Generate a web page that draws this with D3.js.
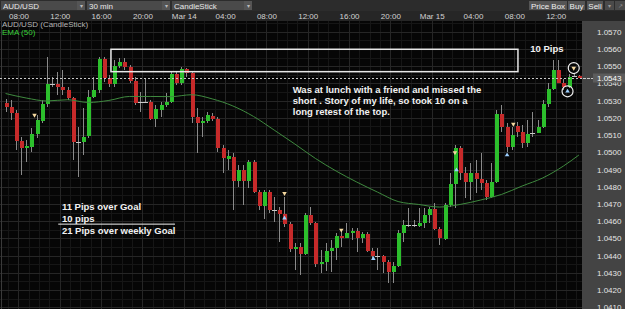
<!DOCTYPE html>
<html>
<head>
<meta charset="utf-8">
<script src="https://cdn.jsdelivr.net/npm/d3@7/dist/d3.min.js"></script>
<style>
  html, body { margin: 0; padding: 0; background: #000; overflow: hidden; }
  #chart { width: 625px; height: 309px; }
  text { font-family: "Liberation Sans", Arial, sans-serif; }
</style>
</head>
<body>
<div id="chart"></div>
<script>
// ---- data ----
const symbolName = 'AUD/USD';
const intervalName = '30 min';
const chartType = 'CandleStick';
const emaLabel = 'EMA (50)';
const toolButtons = ['Price Box', 'Buy', 'Sell'];

const startTime = Date.UTC(2012, 2, 13, 6, 30);   // first candle open
const HALF_HOUR = 30 * 60 * 1000;

const openPrices = [
  1.05284, 1.05265, 1.05226, 1.05065, 1.05023, 1.05032, 1.05104, 1.05183, 1.05279, 1.05395,
  1.05396, 1.05381, 1.05362, 1.05313, 1.05061, 1.05061, 1.05094, 1.05323, 1.05362, 1.05540,
  1.05429, 1.05395, 1.05501, 1.05526, 1.05493, 1.05416, 1.05294, 1.05292, 1.05292, 1.05193,
  1.05245, 1.05274, 1.05294, 1.05453, 1.05400, 1.05482, 1.05459, 1.05207, 1.05168, 1.05183,
  1.05211, 1.05193, 1.05025, 1.04963, 1.04974, 1.04835, 1.04897, 1.04835, 1.04945, 1.04768,
  1.04690, 1.04768, 1.04665, 1.04665, 1.04640, 1.04582, 1.04437, 1.04452, 1.04408, 1.04636,
  1.04588, 1.04350, 1.04363, 1.04427, 1.04443, 1.04514, 1.04504, 1.04533, 1.04545, 1.04501,
  1.04526, 1.04429, 1.04398, 1.04398, 1.04361, 1.04307, 1.04340, 1.04533, 1.04578, 1.04578,
  1.04574, 1.04591, 1.04636, 1.04669, 1.04553, 1.04497, 1.04694, 1.04816, 1.05023, 1.04878,
  1.04829, 1.04878, 1.04843, 1.04820, 1.04742, 1.04826, 1.05222, 1.05145, 1.05029, 1.05153,
  1.05119, 1.05052, 1.05114, 1.05114, 1.05145, 1.05280, 1.05366, 1.05478, 1.05404, 1.05377,
  1.05445, 1.05440
];
const highPrices = [
  1.05308, 1.05303, 1.05245, 1.05090, 1.05071, 1.05139, 1.05216, 1.05303, 1.05555, 1.05439,
  1.05468, 1.05478, 1.05381, 1.05323, 1.05148, 1.05255, 1.05362, 1.05439, 1.05555, 1.05555,
  1.05449, 1.05536, 1.05546, 1.05546, 1.05507, 1.05439, 1.05352, 1.05424, 1.05303, 1.05274,
  1.05294, 1.05342, 1.05468, 1.05468, 1.05497, 1.05488, 1.05468, 1.05255, 1.05207, 1.05236,
  1.05228, 1.05207, 1.05042, 1.05013, 1.04996, 1.04926, 1.04926, 1.04955, 1.04955, 1.04781,
  1.04781, 1.04781, 1.04742, 1.04684, 1.04742, 1.04597, 1.04472, 1.04472, 1.04646, 1.04684,
  1.04597, 1.04433, 1.04472, 1.04491, 1.04530, 1.04549, 1.04588, 1.04559, 1.04559, 1.04539,
  1.04539, 1.04443, 1.04443, 1.04404, 1.04375, 1.04365, 1.04549, 1.04607, 1.04675, 1.04607,
  1.04675, 1.04675, 1.04684, 1.04704, 1.04568, 1.04704, 1.04878, 1.05042, 1.05036, 1.04916,
  1.04936, 1.04955, 1.04996, 1.04839, 1.04936, 1.05245, 1.05274, 1.05168, 1.05148, 1.05178,
  1.05158, 1.05187, 1.05236, 1.05187, 1.05303, 1.05400, 1.05536, 1.05536, 1.05424, 1.05454,
  1.05452, 1.05446
];
const lowPrices = [
  1.05236, 1.05187, 1.05013, 1.04868, 1.04945, 1.05003, 1.05081, 1.05168, 1.05265, 1.05381,
  1.05333, 1.05333, 1.05303, 1.04955, 1.04858, 1.04984, 1.05081, 1.05313, 1.05342, 1.05410,
  1.05381, 1.05381, 1.05488, 1.05478, 1.05400, 1.05274, 1.05236, 1.05284, 1.05187, 1.05148,
  1.05207, 1.05265, 1.05284, 1.05391, 1.05391, 1.05439, 1.05168, 1.04994, 1.05090, 1.05168,
  1.05182, 1.05003, 1.04878, 1.04897, 1.04665, 1.04800, 1.04694, 1.04791, 1.04762, 1.04665,
  1.04611, 1.04646, 1.04597, 1.04481, 1.04568, 1.04423, 1.04317, 1.04288, 1.04404, 1.04578,
  1.04336, 1.04301, 1.04312, 1.04307, 1.04375, 1.04452, 1.04501, 1.04491, 1.04423, 1.04472,
  1.04423, 1.04375, 1.04317, 1.04297, 1.04239, 1.04239, 1.04336, 1.04481, 1.04568, 1.04568,
  1.04568, 1.04559, 1.04588, 1.04549, 1.04462, 1.04491, 1.04684, 1.04675, 1.04839, 1.04733,
  1.04723, 1.04762, 1.04781, 1.04723, 1.04733, 1.04822, 1.05119, 1.05003, 1.05013, 1.05090,
  1.05023, 1.05032, 1.05090, 1.05110, 1.05139, 1.05265, 1.05362, 1.05400, 1.05362, 1.05373,
  1.05438, 1.05432
];
const closePrices = [
  1.05265, 1.05226, 1.05065, 1.05023, 1.05036, 1.05104, 1.05187, 1.05279, 1.05395, 1.05395,
  1.05381, 1.05362, 1.05313, 1.05061, 1.05061, 1.05090, 1.05323, 1.05362, 1.05540, 1.05429,
  1.05395, 1.05501, 1.05526, 1.05493, 1.05416, 1.05288, 1.05294, 1.05292, 1.05193, 1.05249,
  1.05274, 1.05294, 1.05453, 1.05400, 1.05482, 1.05459, 1.05207, 1.05168, 1.05183, 1.05216,
  1.05195, 1.05025, 1.04967, 1.04978, 1.04835, 1.04897, 1.04835, 1.04945, 1.04768, 1.04690,
  1.04768, 1.04665, 1.04665, 1.04640, 1.04582, 1.04437, 1.04452, 1.04408, 1.04636, 1.04588,
  1.04350, 1.04365, 1.04427, 1.04443, 1.04514, 1.04504, 1.04533, 1.04545, 1.04501, 1.04526,
  1.04429, 1.04398, 1.04398, 1.04361, 1.04307, 1.04340, 1.04533, 1.04578, 1.04578, 1.04578,
  1.04591, 1.04636, 1.04669, 1.04553, 1.04501, 1.04694, 1.04816, 1.05023, 1.04878, 1.04829,
  1.04878, 1.04843, 1.04820, 1.04742, 1.04826, 1.05222, 1.05145, 1.05029, 1.05100, 1.05119,
  1.05052, 1.05106, 1.05114, 1.05145, 1.05280, 1.05366, 1.05478, 1.05404, 1.05377, 1.05439,
  1.05445, 1.05434
];

// EMA (50) read at every 4th candle
const emaIndex = [0, 4, 8, 12, 16, 20, 24, 28, 32, 36, 40, 44, 48, 52, 56, 60, 64, 68, 72, 76,
  80, 84, 88, 92, 96, 100, 104, 108, 111];
const emaValues = [1.05341, 1.05315, 1.05298, 1.05305, 1.05289, 1.05301, 1.05324, 1.05324,
  1.05323, 1.05334, 1.05310, 1.05269, 1.05208, 1.05129, 1.05048, 1.04964, 1.04891, 1.04827,
  1.04769, 1.04714, 1.04697, 1.04682, 1.04697, 1.04723, 1.04755, 1.04804, 1.04851, 1.04920,
  1.04984];

const priceTicks = [1.0570, 1.0560, 1.0550, 1.0540, 1.0530, 1.0520, 1.0510, 1.0500, 1.0490,
  1.0480, 1.0470, 1.0460, 1.0450, 1.0440, 1.0430, 1.0420, 1.0410];

// trade markers (candle position, price)
const sellMarkIdx = [5.6, 54, 65, 87, 98.3, 110];
const sellMarkPrice = [1.05216, 1.04762, 1.04549, 1.04998, 1.05164, 1.05489];
const buyMarkIdx = [54, 71.2, 87.3, 97.1, 108.8];
const buyMarkPrice = [1.04618, 1.04382, 1.04897, 1.04984, 1.05354];
const circledSell = [5];
const circledBuy = [4];

// drawn annotations (candle position, price)
const boxIdx = [20.4, 99.2];
const boxPrice = [1.05598, 1.05468];
const lunchNote = ['Was at lunch with a friend and missed the',
  'short . Story of my life, so took 10 on a', 'long retest of the top.'];
const goalNote = ['11 Pips over Goal', '10 pips', '21 Pips over weekly Goal'];

// ---- layout ----
const W = 625, H = 309;
const plot = { left: 0, right: 582, top: 21, bottom: 309 };
const step = 5.165;

const svg = d3.select('#chart').append('svg')
  .attr('width', W).attr('height', H);

const x = d3.scaleUtc()
  .domain([new Date(startTime), new Date(startTime + openPrices.length * HALF_HOUR)])
  .range([3, 3 + openPrices.length * step]);
const y = d3.scaleLinear().domain([1.0410, 1.0570]).range([307.3, 31.7]);
const cx = i => x(new Date(startTime + (i + 0.5) * HALF_HOUR));

// backgrounds
svg.append('rect').attr('width', W).attr('height', H).attr('fill', '#000');
svg.append('rect').attr('x', 0).attr('y', 0).attr('width', W).attr('height', 11).attr('fill', '#2c2c2c');
svg.append('rect').attr('x', 0).attr('y', 11).attr('width', W).attr('height', 10).attr('fill', '#262626');
svg.append('rect').attr('x', plot.right).attr('y', plot.top).attr('width', W - plot.right)
  .attr('height', H - plot.top).attr('fill', '#444');

svg.append('clipPath').attr('id', 'plotClip').append('rect')
  .attr('x', plot.left).attr('y', plot.top)
  .attr('width', plot.right - plot.left).attr('height', plot.bottom - plot.top);

const plotG = svg.append('g').attr('clip-path', 'url(#plotClip)');
plotG.append('rect').attr('x', plot.left).attr('y', plot.top)
  .attr('width', plot.right).attr('height', plot.bottom - plot.top).attr('fill', '#060606');

// grid
const timeTicks = x.ticks(d3.utcHour.every(4));
const minorTimes = x.ticks(d3.utcHour.every(1));
const minorPrices = d3.range(1.0405, 1.0580, 0.0005);
const grid = plotG.append('g').attr('shape-rendering', 'crispEdges');
grid.selectAll('.vmin').data(minorTimes).join('line')
  .attr('x1', d => Math.round(x(d)) + 0.5).attr('x2', d => Math.round(x(d)) + 0.5)
  .attr('y1', plot.top).attr('y2', plot.bottom).attr('stroke', '#161616');
grid.selectAll('.hmin').data(minorPrices).join('line')
  .attr('x1', plot.left).attr('x2', plot.right)
  .attr('y1', d => Math.round(y(d)) + 0.5).attr('y2', d => Math.round(y(d)) + 0.5)
  .attr('stroke', '#161616');
grid.selectAll('.vmaj').data(timeTicks).join('line')
  .attr('x1', d => Math.round(x(d)) + 0.5).attr('x2', d => Math.round(x(d)) + 0.5)
  .attr('y1', plot.top).attr('y2', plot.bottom).attr('stroke', '#262626');
grid.selectAll('.hmaj').data(priceTicks).join('line')
  .attr('x1', plot.left).attr('x2', plot.right)
  .attr('y1', d => Math.round(y(d)) + 0.5).attr('y2', d => Math.round(y(d)) + 0.5)
  .attr('stroke', '#262626');
plotG.append('line').attr('x1', 1.5).attr('x2', 1.5).attr('y1', plot.top).attr('y2', plot.bottom)
  .attr('stroke', '#3a3a3a');

// candles
const candles = openPrices.map((o, i) => ({
  i, o, h: highPrices[i], l: lowPrices[i], c: closePrices[i]
}));
const candleG = plotG.append('g').attr('shape-rendering', 'crispEdges');
candleG.selectAll('line.wick').data(candles).join('line')
  .attr('class', 'wick')
  .attr('x1', d => Math.round(cx(d.i)) + 0.5).attr('x2', d => Math.round(cx(d.i)) + 0.5)
  .attr('y1', d => y(d.h)).attr('y2', d => y(d.l))
  .attr('stroke', '#8a8a8a');
candleG.selectAll('rect.body').data(candles.filter(d => d.o !== d.c)).join('rect')
  .attr('class', 'body')
  .attr('x', d => Math.round(cx(d.i)) - 1.5)
  .attr('width', 4)
  .attr('y', d => y(Math.max(d.o, d.c)))
  .attr('height', d => Math.max(1.5, Math.abs(y(d.o) - y(d.c))))
  .attr('fill', d => d.c > d.o ? '#2cbf2c' : '#c62a2a');
candleG.selectAll('line.doji').data(candles.filter(d => d.o === d.c)).join('line')
  .attr('class', 'doji')
  .attr('x1', d => Math.round(cx(d.i)) - 2).attr('x2', d => Math.round(cx(d.i)) + 3)
  .attr('y1', d => Math.round(y(d.c)) + 0.5).attr('y2', d => Math.round(y(d.c)) + 0.5)
  .attr('stroke', '#c8c8c8');

// EMA (50)
const emaLine = d3.line()
  .x(d => cx(d[0])).y(d => y(d[1]))
  .curve(d3.curveMonotoneX);
plotG.append('path')
  .datum(emaIndex.map((i, k) => [i, emaValues[k]]))
  .attr('d', emaLine)
  .attr('fill', 'none').attr('stroke', '#3f8a3f').attr('stroke-width', 1);

// current price line
const lastPrice = closePrices[closePrices.length - 1];
svg.append('line')
  .attr('x1', 0).attr('x2', 593)
  .attr('y1', Math.round(y(lastPrice)) + 0.5).attr('y2', Math.round(y(lastPrice)) + 0.5)
  .attr('stroke', '#c8c8c8').attr('stroke-dasharray', '2,2');

// trade markers
const tri = d3.symbol().type(d3.symbolTriangle).size(9);
plotG.selectAll('path.sell').data(sellMarkIdx).join('path')
  .attr('class', 'sell')
  .attr('d', tri)
  .attr('transform', (d, k) => `translate(${cx(d)},${y(sellMarkPrice[k])}) rotate(180)`)
  .attr('fill', '#f5d9a0');
plotG.selectAll('path.buy').data(buyMarkIdx).join('path')
  .attr('class', 'buy')
  .attr('d', tri)
  .attr('transform', (d, k) => `translate(${cx(d)},${y(buyMarkPrice[k])})`)
  .attr('fill', '#9ccfff');
plotG.selectAll('circle.csell').data(circledSell).join('circle')
  .attr('cx', k => cx(sellMarkIdx[k])).attr('cy', k => y(sellMarkPrice[k]))
  .attr('r', 5.5).attr('fill', 'none').attr('stroke', '#f0f0f0').attr('stroke-width', 1.2);
plotG.selectAll('circle.cbuy').data(circledBuy).join('circle')
  .attr('cx', k => cx(buyMarkIdx[k])).attr('cy', k => y(buyMarkPrice[k]))
  .attr('r', 5.5).attr('fill', 'none').attr('stroke', '#f0f0f0').attr('stroke-width', 1.2);

// annotations
const noteG = plotG.append('g').attr('fill', '#f2f2f2').attr('font-weight', 'bold').attr('font-size', '9.5px');
plotG.append('rect')
  .attr('x', cx(boxIdx[0])).attr('y', y(boxPrice[0]))
  .attr('width', cx(boxIdx[1]) - cx(boxIdx[0]))
  .attr('height', y(boxPrice[1]) - y(boxPrice[0]))
  .attr('fill', 'none').attr('stroke', '#e8e8e8').attr('stroke-width', 1.5);
noteG.append('text').attr('x', cx(104.8)).attr('y', y(1.05580))
  .attr('text-anchor', 'middle').text('10 Pips');
noteG.selectAll('text.lunch').data(lunchNote).join('text')
  .attr('class', 'lunch')
  .attr('x', cx(55.6)).attr('y', (d, k) => y(1.05346) + k * 11.3)
  .text(d => d);
noteG.selectAll('text.goal').data(goalNote).join('text')
  .attr('class', 'goal')
  .attr('x', cx(10.9)).attr('y', (d, k) => y(1.04667) + k * 12)
  .text(d => d);
plotG.append('line')
  .attr('x1', cx(10.2)).attr('x2', cx(32.8))
  .attr('y1', y(1.04667) + 14.5).attr('y2', y(1.04667) + 14.5)
  .attr('stroke', '#f0f0f0').attr('stroke-width', 1);

// legend
svg.append('text').attr('x', 2).attr('y', 26.5).attr('font-size', '8px').attr('fill', '#b4b4b4')
  .text(`${symbolName} (${chartType})`);
svg.append('text').attr('x', 2).attr('y', 34.5).attr('font-size', '8px').attr('fill', '#38d038')
  .text(emaLabel);

// time axis (clip lives on an untransformed wrapper)
svg.append('clipPath').attr('id', 'timeClip').append('rect')
  .attr('x', 0).attr('y', 11).attr('width', 594).attr('height', 10);
const timeAxis = d3.axisTop(x)
  .tickValues(timeTicks)
  .tickSize(0).tickPadding(0)
  .tickFormat(d => d.getUTCHours() === 0 ? d3.utcFormat('%b %-d')(d) : d3.utcFormat('%H:%M')(d));
const timeG = svg.append('g').attr('clip-path', 'url(#timeClip)')
  .append('g').attr('transform', 'translate(0,19)').call(timeAxis);
timeG.select('.domain').remove();
timeG.selectAll('text').attr('fill', '#d2d2d2').attr('font-size', '8px')
  .attr('font-family', '"Liberation Sans", Arial, sans-serif');

// price axis
const priceAxis = d3.axisRight(y)
  .tickValues(priceTicks).tickSize(0).tickPadding(0)
  .tickFormat(d3.format('.4f'));
const priceG = svg.append('g').attr('transform', 'translate(597,0)').call(priceAxis);
priceG.select('.domain').remove();
priceG.selectAll('text').attr('fill', '#e6e6e6').attr('font-size', '8px')
  .attr('font-family', '"Liberation Sans", Arial, sans-serif');

// current price tag
const tagY = Math.round(y(lastPrice));
svg.append('rect').attr('x', 593).attr('y', tagY - 4.5).attr('width', 32).attr('height', 9)
  .attr('fill', '#5c5c5c');
svg.append('line').attr('x1', 583).attr('x2', 593).attr('y1', tagY + 0.5).attr('y2', tagY + 0.5)
  .attr('stroke', '#c8c8c8').attr('stroke-dasharray', '2,2');
svg.append('text').attr('x', 597).attr('y', tagY + 3).attr('font-size', '8px').attr('fill', '#fff')
  .text(d3.format('.4f')(lastPrice));

// toolbar
const dropdowns = [
  { label: symbolName, x0: 1, x1: 85 },
  { label: intervalName, x0: 87, x1: 170 },
  { label: chartType, x0: 172, x1: 252 }
];
const dd = svg.append('g').selectAll('g').data(dropdowns).join('g');
dd.append('rect').attr('x', d => d.x0).attr('y', 1).attr('width', d => d.x1 - d.x0).attr('height', 9)
  .attr('fill', '#4a4a4a');
dd.append('rect').attr('x', d => d.x1 - 8).attr('y', 1).attr('width', 8).attr('height', 9)
  .attr('fill', '#555');
dd.append('text').attr('x', d => d.x0 + 2).attr('y', 8.5).attr('font-size', '8px').attr('fill', '#e8e8e8')
  .text(d => d.label);
dd.append('text').attr('x', d => d.x1 - 4).attr('y', 8).attr('text-anchor', 'middle')
  .attr('font-size', '6px').attr('fill', '#bbb').text('▾');

const btnX = [[529, 567], [568, 585], [587, 603]];
const btn = svg.append('g').selectAll('g').data(toolButtons).join('g');
btn.append('rect').attr('x', (d, k) => btnX[k][0]).attr('y', 1)
  .attr('width', (d, k) => btnX[k][1] - btnX[k][0]).attr('height', 9).attr('fill', '#555');
btn.append('text').attr('x', (d, k) => (btnX[k][0] + btnX[k][1]) / 2).attr('y', 8.5)
  .attr('text-anchor', 'middle').attr('font-size', '8px').attr('fill', '#eee').text(d => d);
svg.append('rect').attr('x', 605).attr('y', 1).attr('width', 9).attr('height', 9).attr('fill', '#4a4a4a');
svg.append('rect').attr('x', 615).attr('y', 1).attr('width', 10).attr('height', 9).attr('fill', '#4a4a4a');
svg.append('text').attr('x', 609.5).attr('y', 8).attr('text-anchor', 'middle').attr('font-size', '6px')
  .attr('fill', '#999').text('▾');
svg.append('text').attr('x', 620).attr('y', 8).attr('text-anchor', 'middle').attr('font-size', '6px')
  .attr('fill', '#999').text('↗');
</script>
</body>
</html>
